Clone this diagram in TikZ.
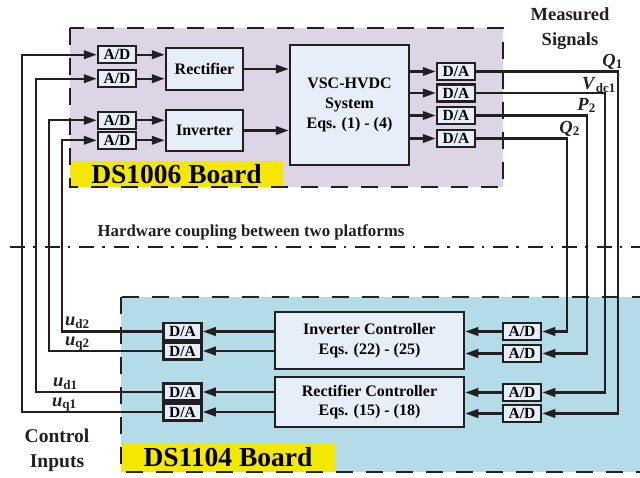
\documentclass[tikz,border=0pt]{standalone}
\usepackage{fontspec}
\setmainfont{Liberation Serif}
\usetikzlibrary{arrows.meta}
\definecolor{lav}{RGB}{221,212,230}
\definecolor{lblue}{RGB}{180,220,232}
\definecolor{boxfill}{RGB}{230,238,247}
\definecolor{ylw}{RGB}{245,232,0}
\definecolor{ink}{RGB}{35,31,32}
\newcommand\sigl[2]{\textbf{\textit{#1}}\textsubscript{\fontsize{13}{13}\selectfont\bfseries #2}}
\begin{document}
\begin{tikzpicture}[x=1pt,y=-1pt,
  conv/.style={draw=ink, fill=boxfill, line width=2.5pt, minimum width=38pt, minimum height=17pt, inner sep=0pt, font=\fontsize{15.5}{15.5}\selectfont\bfseries},
  blk/.style={draw=ink, fill=boxfill, line width=2.5pt, inner sep=0pt, align=center, font=\fontsize{16}{20}\selectfont\bfseries},
  sig/.style={-{Triangle[length=13pt,width=8.5pt]}, line width=2.3pt, draw=ink},
  board/.style={line width=2.6pt, draw=ink, dash pattern=on 17pt off 13pt},
  lbl/.style={fill=ylw, inner sep=0pt, font=\fontsize{27.5}{27.5}\selectfont\bfseries},
  txt/.style={inner sep=0pt, align=center, text=ink}
]
\useasboundingbox (0,0) rectangle (640,477);
% boards
\fill[lav] (70,28) rectangle (503,187);
\fill[lblue] (121,297) rectangle (660,472);
\node[lbl, minimum width=213pt, minimum height=26pt] (lbl1) at (176.5,174) {DS1006 Board};
\node[lbl, minimum width=214pt, minimum height=29pt] (lbl2) at (228,457.5) {DS1104 Board};
\draw[board] (70,28) rectangle (503,187);
\draw[board] (121,297) rectangle (660,472);
% coupling line
\draw[line width=2.4pt, draw=ink, dash pattern=on 15pt off 8pt on 2.5pt off 9pt] (10,247) -- (640,247);
\node[txt, font=\fontsize{16.8}{16.8}\selectfont\bfseries] (coup) at (251,232) {Hardware coupling between two platforms};
% top board blocks
\node[conv] (ad1) at (117,54.7) {A/D};
\node[conv] (ad2) at (117,78.7) {A/D};
\node[conv] (ad3) at (117,120.3) {A/D};
\node[conv] (ad4) at (117,140.3) {A/D};
\node[blk, minimum width=77pt, minimum height=42pt] (rect) at (204.5,69) {Rectifier};
\node[blk, minimum width=77pt, minimum height=41pt] (inv) at (204.5,130.5) {Inverter};
\node[blk, minimum width=119pt, minimum height=120pt] (vsc) at (349.5,105) {VSC-HVDC\\System\\Eqs. (1) - (4)};
\node[conv] (da1) at (456,71.5) {D/A};
\node[conv] (da2) at (456,93) {D/A};
\node[conv] (da3) at (456,115.5) {D/A};
\node[conv] (da4) at (456,138.5) {D/A};
% bottom board blocks
\node[blk, font=\fontsize{16}{19.5}\selectfont\bfseries, minimum width=189pt, minimum height=57pt] (ictl) at (369.5,340.5) {Inverter Controller\\Eqs. (22) - (25)};
\node[blk, font=\fontsize{16}{19.5}\selectfont\bfseries, minimum width=189pt, minimum height=50pt] (rctl) at (369.5,402) {Rectifier Controller\\Eqs. (15) - (18)};
\node[conv] (bad1) at (522,331.5) {A/D};
\node[conv] (bad2) at (522,353.5) {A/D};
\node[conv] (bad3) at (522,392.5) {A/D};
\node[conv] (bad4) at (522,413.5) {A/D};
\node[conv] (bda1) at (182.5,331.5) {D/A};
\node[conv] (bda2) at (182.5,351) {D/A};
\node[conv] (bda3) at (182.5,392) {D/A};
\node[conv] (bda4) at (182.5,412) {D/A};
% internal arrows top
\draw[sig] (ad1.east) -- (ad1.east -| rect.west);
\draw[sig] (ad2.east) -- (ad2.east -| rect.west);
\draw[sig] (ad3.east) -- (ad3.east -| inv.west);
\draw[sig] (ad4.east) -- (ad4.east -| inv.west);
\draw[sig] (rect.east) -- (rect.east -| vsc.west);
\draw[sig] (inv.east) -- (inv.east -| vsc.west);
\draw[sig] (da1.west -| vsc.east) -- (da1.west);
\draw[sig] (da2.west -| vsc.east) -- (da2.west);
\draw[sig] (da3.west -| vsc.east) -- (da3.west);
\draw[sig] (da4.west -| vsc.east) -- (da4.west);
% internal arrows bottom
\draw[sig] (bad1.west) -- (bad1.west -| ictl.east);
\draw[sig] (bad2.west) -- (bad2.west -| ictl.east);
\draw[sig] (bad3.west) -- (bad3.west -| rctl.east);
\draw[sig] (bad4.west) -- (bad4.west -| rctl.east);
\draw[sig] (bda1.east -| ictl.west) -- (bda1.east);
\draw[sig] (bda2.east -| ictl.west) -- (bda2.east);
\draw[sig] (bda3.east -| rctl.west) -- (bda3.east);
\draw[sig] (bda4.east -| rctl.west) -- (bda4.east);
% measured signal wires
\coordinate (xQ1) at (618,0);
\coordinate (xV) at (605,0);
\coordinate (xP2) at (587,0);
\coordinate (xQ2) at (567,0);
\draw[sig] (da1.east) -- (da1.east -| xQ1) -- (bad4.east -| xQ1) -- (bad4.east);
\draw[sig] (da2.east) -- (da2.east -| xV) -- (bad3.east -| xV) -- (bad3.east);
\draw[sig] (da3.east) -- (da3.east -| xP2) -- (bad2.east -| xP2) -- (bad2.east);
\draw[sig] (da4.east) -- (da4.east -| xQ2) -- (bad1.east -| xQ2) -- (bad1.east);
% control input wires
\coordinate (xq1) at (22,0);
\coordinate (xd1) at (36,0);
\coordinate (xq2) at (49,0);
\coordinate (xd2) at (62,0);
\draw[sig] (bda4.west) -- (bda4.west -| xq1) -- (ad1.west -| xq1) -- (ad1.west);
\draw[sig] (bda3.west) -- (bda3.west -| xd1) -- (ad2.west -| xd1) -- (ad2.west);
\draw[sig] (bda2.west) -- (bda2.west -| xq2) -- (ad3.west -| xq2) -- (ad3.west);
\draw[sig] (bda1.west) -- (bda1.west -| xd2) -- (ad4.west -| xd2) -- (ad4.west);
% signal labels
\node[txt, anchor=base east, font=\fontsize{18.5}{18.5}\selectfont] (lQ1) at (623,66) {\sigl{Q}{1}};
\node[txt, anchor=base east, font=\fontsize{18.5}{18.5}\selectfont] (lV) at (616,89) {\sigl{V}{dc1}};
\node[txt, anchor=base east, font=\fontsize{18.5}{18.5}\selectfont] (lP2) at (596,110) {\sigl{P}{2}};
\node[txt, anchor=base east, font=\fontsize{18.5}{18.5}\selectfont] (lQ2) at (580,133) {\sigl{Q}{2}};
\node[txt, anchor=base west, font=\fontsize{18.5}{18.5}\selectfont] (lud2) at (65,325) {\sigl{u}{d2}};
\node[txt, anchor=base west, font=\fontsize{18.5}{18.5}\selectfont] (luq2) at (65,345) {\sigl{u}{q2}};
\node[txt, anchor=base west, font=\fontsize{18.5}{18.5}\selectfont] (lud1) at (53,386) {\sigl{u}{d1}};
\node[txt, anchor=base west, font=\fontsize{18.5}{18.5}\selectfont] (luq1) at (52,406) {\sigl{u}{q1}};
% titles
\node[txt, font=\fontsize{18.5}{25}\selectfont\bfseries] (meas) at (570,29) {Measured\\Signals};
\node[txt, font=\fontsize{19.5}{25}\selectfont\bfseries] (ctrl) at (57,450) {Control\\Inputs};
\end{tikzpicture}
\end{document}
